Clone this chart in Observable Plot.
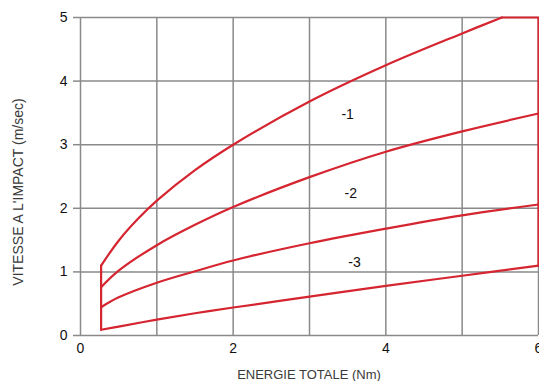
<!DOCTYPE html>
<html>
<head>
<meta charset="utf-8">
<script src="https://cdn.jsdelivr.net/npm/d3@7"></script>
<script src="https://cdn.jsdelivr.net/npm/@observablehq/plot@0.6"></script>
<style>
  html, body { margin: 0; padding: 0; background: white; }
  #chart { width: 539px; height: 381px; }
</style>
</head>
<body>
<div id="chart"></div>
<script>
// ---- data ----
const curve1X = [0.27, 0.5, 0.75, 1, 1.5, 2, 3, 4, 5, 5.52];
const curve1Y = [1.10, 1.49, 1.83, 2.12, 2.6, 3.0, 3.68, 4.25, 4.75, 5.0];
const energyX = [0.27, 0.5, 1, 1.5, 2, 3, 4, 5, 6];
const curve2Y = [0.76, 1.02, 1.42, 1.74, 2.02, 2.49, 2.89, 3.21, 3.49];
const curve3Y = [0.445, 0.60, 0.83, 1.01, 1.18, 1.45, 1.68, 1.89, 2.06];
const curve4Y = [0.09, 0.14, 0.25, 0.35, 0.44, 0.61, 0.78, 0.94, 1.10];
const leftEdgeX = [0.27, 0.27];
const leftEdgeY = [0.09, 1.10];
const rightEdgeX = [5.52, 6, 6];
const rightEdgeY = [5.0, 5.0, 1.10];
const curveLabels = ["-1", "-2", "-3"];
const curveLabelX = [3.5, 3.54, 3.59];
const curveLabelY = [3.47, 2.24, 1.15];
const xGrid = [0, 1, 2, 3, 4, 5, 6];
const xTickLabels = [0, 2, 4, 6];
const yTicks = [0, 1, 2, 3, 4, 5];
const xTitle = "ENERGIE TOTALE (Nm)";
const yTitle = "VITESSE A L'IMPACT (m/sec)";

// ---- tables ----
const curves = [];
curve1X.forEach((x, i) => curves.push({series: "1", x, y: curve1Y[i]}));
energyX.forEach((x, i) => curves.push({series: "2", x, y: curve2Y[i]}));
energyX.forEach((x, i) => curves.push({series: "3", x, y: curve3Y[i]}));
energyX.forEach((x, i) => curves.push({series: "4", x, y: curve4Y[i]}));
const edges = [];
leftEdgeX.forEach((x, i) => edges.push({series: "L", x, y: leftEdgeY[i]}));
rightEdgeX.forEach((x, i) => edges.push({series: "R", x, y: rightEdgeY[i]}));
const labels = curveLabels.map((t, i) => ({t, x: curveLabelX[i], y: curveLabelY[i]}));

const RED = "#d52530";
const GRID = "#8a8a8a";

const chart = Plot.plot({
  width: 539,
  height: 381,
  marginLeft: 80,
  marginRight: 1,
  marginTop: 17,
  marginBottom: 46,
  x: {domain: [0, 6]},
  y: {domain: [0, 5]},
  style: {fontFamily: "'Liberation Sans', Arial, sans-serif", fontSize: "13px", color: "#111", background: "white"},
  marks: [
    Plot.gridX(xGrid, {stroke: GRID, strokeOpacity: 1, strokeWidth: 1.5}),
    Plot.gridY(yTicks, {stroke: GRID, strokeOpacity: 1, strokeWidth: 1.5}),
    Plot.axisY(yTicks, {tickSize: 7, tickPadding: 6, stroke: GRID, strokeWidth: 1.5, label: null, fontSize: 14, tickFormat: d3.format("d")}),
    Plot.axisX(xTickLabels, {tickSize: 0, tickPadding: 8, label: null, fontSize: 14, tickFormat: d3.format("d")}),
    Plot.line(curves, {x: "x", y: "y", z: "series", stroke: RED, strokeWidth: 2.2, curve: "catmull-rom"}),
    Plot.line(edges, {x: "x", y: "y", z: "series", stroke: RED, strokeWidth: 2.2}),
    Plot.text(labels, {x: "x", y: "y", text: "t", fontSize: 14, fill: "#111"})
  ]
});

const svg = d3.select(chart);
svg.append("text")
  .attr("x", 309).attr("y", 376)
  .attr("text-anchor", "middle").attr("dominant-baseline", "middle")
  .attr("font-size", 13).attr("fill", "#3a3a3a")
  .text(xTitle);
svg.append("text")
  .attr("transform", "translate(19,192) rotate(-90)")
  .attr("text-anchor", "middle").attr("dominant-baseline", "middle")
  .attr("font-size", 14).attr("fill", "#3a3a3a")
  .text(yTitle);

document.getElementById("chart").appendChild(chart);
</script>
</body>
</html>
